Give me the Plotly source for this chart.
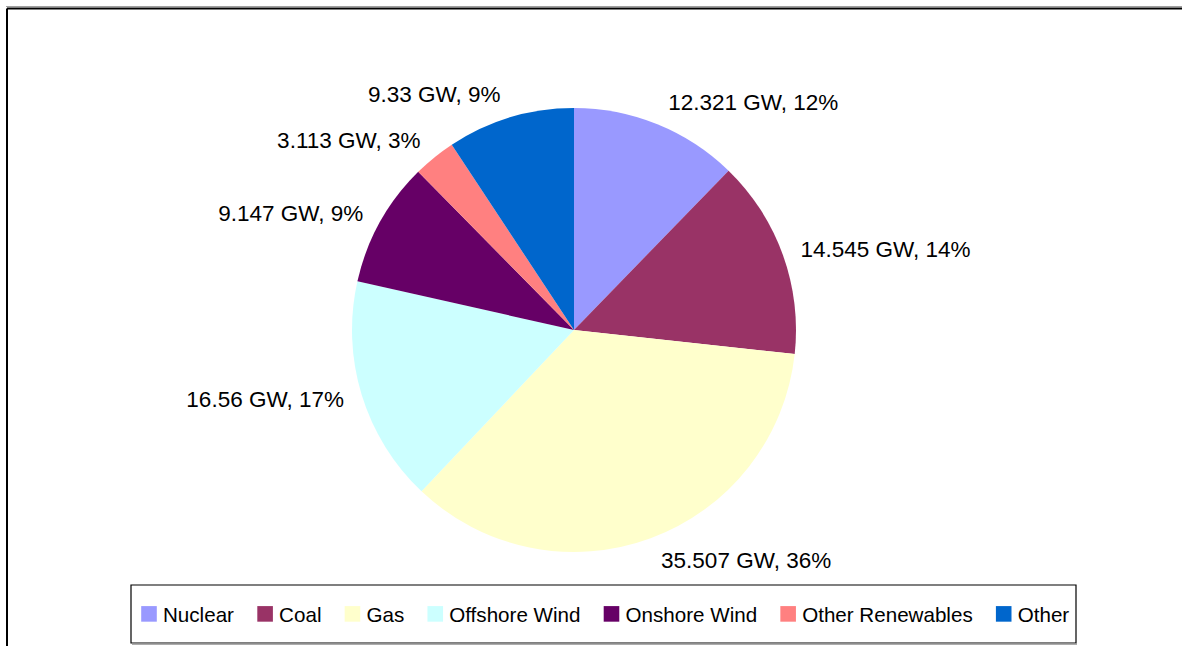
import plotly.graph_objects as go

categories = ["Nuclear", "Coal", "Gas", "Offshore Wind", "Onshore Wind", "Other Renewables", "Other"]
capacity_gw = [12.321, 14.545, 35.507, 16.56, 9.147, 3.113, 9.33]
percent_labels = ["12%", "14%", "36%", "17%", "9%", "3%", "9%"]
colors = ["#9999FF", "#993366", "#FFFFCC", "#CCFFFF", "#660066", "#FF8080", "#0066CC"]

W, H = 1182, 646
cx, cy, r = 574, 330, 222
r_text = 234  # label ring slightly outside the visible pie (Excel-style label offset)
FONT = "Liberation Sans, Arial, sans-serif"


def domain(radius):
    return dict(x=[(cx - radius) / W, (cx + radius) / W],
                y=[1 - (cy + radius) / H, 1 - (cy - radius) / H])


fig = go.Figure()
# visible pie
fig.add_trace(go.Pie(
    labels=categories,
    values=capacity_gw,
    textinfo="none",
    marker=dict(colors=colors, line=dict(width=0)),
    sort=False,
    direction="clockwise",
    rotation=0,
    domain=domain(r),
    hoverinfo="label+value+percent",
    showlegend=True,
))
# label carrier (transparent), same data
fig.add_trace(go.Pie(
    labels=categories,
    values=capacity_gw,
    text=percent_labels,
    texttemplate="%{value} GW, %{text}",
    textposition="outside",
    textfont=dict(family=FONT, size=22.5, color="#000000"),
    marker=dict(colors=["rgba(0,0,0,0)"] * len(categories), line=dict(width=0)),
    sort=False,
    direction="clockwise",
    rotation=0,
    domain=domain(r_text),
    hoverinfo="skip",
    showlegend=False,
))

fig.update_layout(
    width=W, height=H,
    margin=dict(l=0, r=0, t=0, b=0),
    paper_bgcolor="white",
    font=dict(family=FONT, size=21, color="#000000"),
    showlegend=True,
    legend=dict(
        orientation="h",
        x=599 / W, xanchor="center",
        y=1 - 614 / H, yanchor="middle",
        borderwidth=0,
        bgcolor="rgba(0,0,0,0)",
        font=dict(family=FONT, size=20.6, color="#000000"),
        itemwidth=30,
    ),
    shapes=[
        # outer chart frame (top and left edges visible)
        dict(type="line", xref="paper", yref="paper", x0=6 / W, x1=1.0, y0=1 - 6.5 / H, y1=1 - 6.5 / H,
             line=dict(color="#A0A0A0", width=1)),
        dict(type="line", xref="paper", yref="paper", x0=7 / W, x1=1.0, y0=1 - 8.5 / H, y1=1 - 8.5 / H,
             line=dict(color="#000000", width=2)),
        dict(type="line", xref="paper", yref="paper", x0=7 / W, x1=7 / W, y0=0, y1=1 - 8.5 / H,
             line=dict(color="#000000", width=2)),
        # legend box with soft shadow
        dict(type="line", xref="paper", yref="paper", x0=132 / W, x1=1077 / W, y0=1 - 644 / H, y1=1 - 644 / H,
             line=dict(color="#909090", width=1.5)),
        dict(type="rect", xref="paper", yref="paper", x0=131 / W, x1=1076 / W, y0=1 - 643 / H, y1=1 - 585 / H,
             line=dict(color="#000000", width=1.2), fillcolor="rgba(0,0,0,0)", layer="below"),
    ],
)

post = """
document.body.style.margin='0';
function bigKeys(){
  document.querySelectorAll('.legendpoints path').forEach(function(p){
    if (p.getAttribute('data-orig-tf') === null) {
      p.setAttribute('data-orig-tf', p.getAttribute('transform') || '');
    }
    var orig = p.getAttribute('data-orig-tf');
    p.setAttribute('transform', orig + ' translate(6,0) scale(1.3)');
  });
}
bigKeys();
var gd = document.getElementById('{plot_id}');
if (gd && gd.on) { gd.on('plotly_afterplot', bigKeys); }
"""

fig.write_html("out.html", config={"displayModeBar": False}, post_script=post)
